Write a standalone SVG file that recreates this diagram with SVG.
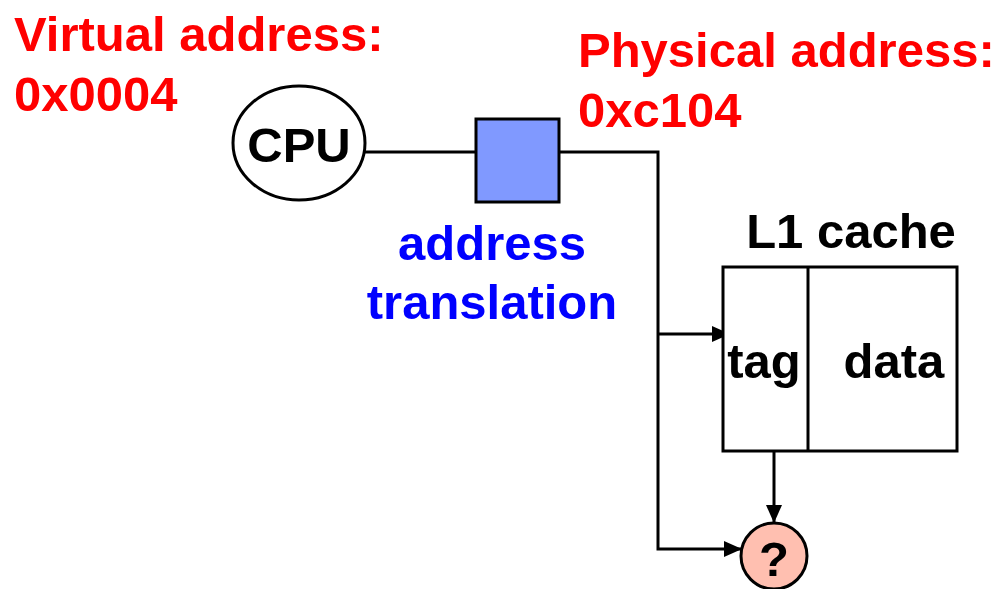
<svg xmlns="http://www.w3.org/2000/svg" width="1006" height="589" viewBox="0 0 1006 589">
<style>
text{font-family:"Liberation Sans",Arial,sans-serif;font-weight:bold;font-size:49px}
.red{fill:#ff0000}
.blue{fill:#0000ff}
.blk{fill:#000}
.shape{stroke:#000;stroke-width:3}
.conn{fill:none;stroke:#000;stroke-width:3}
</style>
<defs>
<marker id="arrL" markerWidth="18" markerHeight="16" refX="17" refY="8" orient="auto" markerUnits="userSpaceOnUse" viewBox="0 0 18 16">
<path d="M0,0 L18,8 L0,16 z" fill="#000"/>
</marker>
</defs>
<g id="labels">
<text class="red" x="14" y="51">Virtual address:</text>
<text class="red" x="14" y="111">0x0004</text>
<text class="red" x="578" y="67">Physical address:</text>
<text class="red" x="578" y="127">0xc104</text>
</g>
<g id="connectors">
<line class="conn" x1="365" y1="152" x2="476" y2="152"/>
<polyline class="conn" points="559,152 658,152 658,549 741,549" marker-end="url(#arrL)"/>
<line class="conn" x1="658" y1="334" x2="729" y2="334" marker-end="url(#arrL)"/>
<line class="conn" x1="774" y1="451" x2="774" y2="522" marker-end="url(#arrL)"/>
</g>
<g id="cpu">
<ellipse class="shape" cx="299" cy="143" rx="66" ry="57" fill="#fff"/>
<text class="blk" x="299" y="162" text-anchor="middle" font-size="48">CPU</text>
</g>
<g id="translation">
<rect class="shape" x="476" y="119" width="83" height="83" fill="#8099ff"/>
<text class="blue" x="492" y="260" text-anchor="middle">address</text>
<text class="blue" x="492" y="319" text-anchor="middle">translation</text>
</g>
<g id="cache">
<text class="blk" x="851" y="248" text-anchor="middle">L1 cache</text>
<rect class="shape" x="723" y="267" width="234" height="184" fill="#fff"/>
<line class="shape" x1="808" y1="267" x2="808" y2="451"/>
<text class="blk" x="764" y="378" text-anchor="middle" font-size="46">tag</text>
<text class="blk" x="894" y="378" text-anchor="middle">data</text>
</g>
<g id="compare">
<circle class="shape" cx="774" cy="556" r="33" fill="#ffbfb0"/>
<text class="blk" x="774" y="576" text-anchor="middle" font-size="46">?</text>
</g>
</svg>
